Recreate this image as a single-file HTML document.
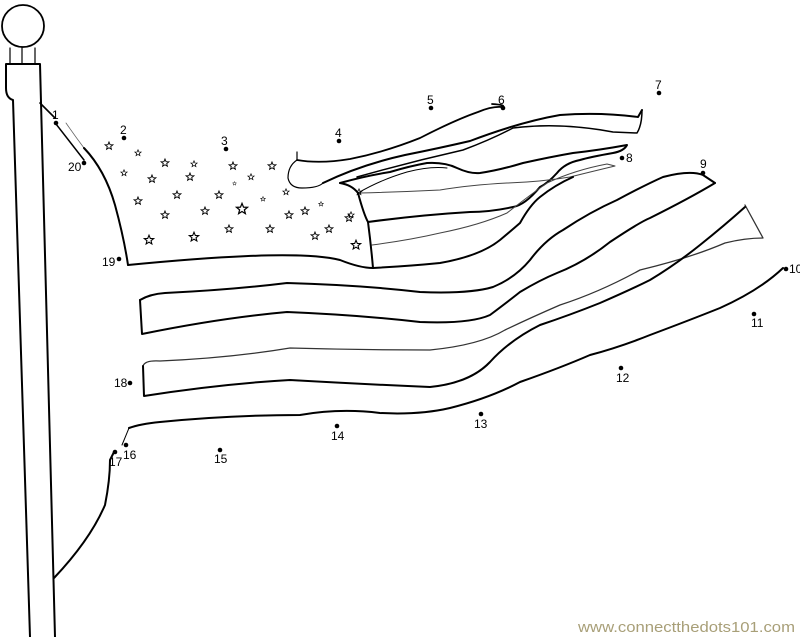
<!DOCTYPE html>
<html><head><meta charset="utf-8"><style>
html,body{margin:0;padding:0;background:#fff;}
svg{display:block;}
text{font-family:"Liberation Sans",sans-serif;}
</style></head><body>
<svg width="800" height="637" viewBox="0 0 800 637" xmlns="http://www.w3.org/2000/svg">
<defs>
<symbol id="st" viewBox="-5 -5 10 10" overflow="visible">
<polygon points="0,-4 1.1,-1.3 3.9,-1.2 1.7,0.6 2.4,3.3 0,1.8 -2.4,3.3 -1.7,0.6 -3.9,-1.2 -1.1,-1.3" fill="none" stroke="#000" stroke-width="0.9"/>
</symbol>
</defs>
<g fill="none" stroke="#000" stroke-linecap="round" stroke-linejoin="round">
<!-- pole -->
<circle cx="23" cy="26" r="21" stroke-width="1.8"/>
<path d="M10,48 V63 M22,47 V63 M35,48 V63" stroke-width="1.2"/>
<path d="M30,637 L13,100 Q6,98 6,88 L6,64 L40,64 L55,637" stroke-width="2"/>
<path d="M40,103 L55,118" stroke-width="1.6"/>
<!-- hoist -->
<path d="M56,124 Q70,142 84,160" stroke-width="1.5"/>
<path d="M66,123 Q75,136 84,148" stroke-width="0.8" stroke="#666"/>
<path d="M84,148 Q105,170 115,205 Q124,238 128,265" stroke-width="2"/>
<path d="M128,265 C200,258 300,250 340,260 Q360,268 373,268" stroke-width="2"/>
<path d="M54,578 Q90,540 105,505 Q110,480 110,460 L114,452" stroke-width="2"/>
<path d="M122,445 L129,428" stroke-width="1"/>
<!-- canton right edge -->
<path d="M340,183 Q352,185 358,193 Q364,215 368,222 Q371,245 373,268" stroke-width="2"/>
<!-- top fold -->
<path d="M297,152 L297,160 Q288,166 288,178 Q290,188 302,188 Q318,188 323,183" stroke-width="1.2"/>
<path d="M297,160 Q320,164 350,159 Q385,152 420,138 Q455,120 478,112 Q492,106 502,107 Q507,105 492,104" stroke-width="1.8"/>
<path d="M323,183 Q360,165 405,155 Q440,148 470,141 Q520,122 560,115 Q600,112 638,117 L642,110" stroke-width="2"/>
<path d="M357,177 Q410,162 463,150 Q490,140 513,128 Q560,122 613,132 L637,133 Q642,125 642,110" stroke-width="1.5"/>
<path d="M340,183 Q365,176 390,172 Q410,166 427,163 Q445,162 457,168 Q470,174 480,173 Q500,170 523,163 Q550,157 573,153 Q600,150 627,145 Q624,151 613,153 Q590,157 580,160 Q565,163 557,173 Q548,183 540,187 Q525,205 513,207 Q490,212 470,212 Q420,215 368,222" stroke-width="2"/>
<path d="M358,193 Q380,180 407,172 Q430,166 447,168" stroke-width="1"/>
<path d="M372,245 Q410,240 440,233 Q480,225 507,213 Q530,195 547,183 Q575,170 607,164 L615,166 Q590,172 570,177 Q540,182 507,183 Q470,185 440,190 Q400,192 360,193" stroke-width="1" stroke="#444"/>
<path d="M373,268 Q410,266 440,263 Q480,256 500,240 Q512,230 520,223 Q530,205 540,197 Q555,185 573,177" stroke-width="2"/>
<!-- stripe A (to 9) -->
<path d="M140,300 Q150,294 165,293 Q230,290 287,283 Q360,285 420,292 Q470,294 493,287 Q515,278 530,260 Q545,240 563,230 Q590,212 617,200 Q645,185 663,177 Q690,170 703,175 L715,183" stroke-width="2"/>
<path d="M140,300 L142,334 Q220,318 287,312 Q360,315 420,322 Q470,324 490,315 Q510,300 520,292 Q540,280 557,273 Q585,262 610,242 Q640,222 650,218 Q690,198 715,183" stroke-width="2"/>
<!-- stripe B -->
<path d="M143,366 Q145,360 160,361 Q230,358 290,348 Q360,350 430,350 Q480,345 505,330 Q530,318 560,305 Q600,292 640,270 Q690,258 725,243 Q745,238 763,238 L745,205" stroke-width="1.3" stroke="#333"/>
<path d="M143,366 L144,396 Q220,384 290,380 Q360,384 430,387 Q470,383 490,362 Q510,340 540,325 Q570,315 600,303 Q630,290 650,280 Q675,265 700,245 Q725,225 745,207" stroke-width="2"/>
<!-- bottom edge -->
<path d="M129,428 Q140,424 160,422 Q230,415 300,415 Q340,408 380,413 Q420,415 450,408 Q490,398 520,382 Q560,368 590,355 Q620,347 650,335 Q690,320 720,308 Q760,290 783,268" stroke-width="2"/>
</g>
<!-- stars -->
<g>
<use href="#st" x="104" y="141" width="10" height="10"/>
<use href="#st" x="134" y="149" width="8" height="8"/>
<use href="#st" x="160" y="158" width="10" height="10"/>
<use href="#st" x="190" y="160" width="8" height="8"/>
<use href="#st" x="228" y="161" width="10" height="10"/>
<use href="#st" x="267" y="161" width="10" height="10"/>
<use href="#st" x="120" y="169" width="8" height="8"/>
<use href="#st" x="147" y="174" width="10" height="10"/>
<use href="#st" x="185" y="172" width="10" height="10"/>
<use href="#st" x="247" y="173" width="8" height="8"/>
<use href="#st" x="232" y="181" width="5" height="5"/>
<use href="#st" x="282" y="188" width="8" height="8"/>
<use href="#st" x="172" y="190" width="10" height="10"/>
<use href="#st" x="214" y="190" width="10" height="10"/>
<use href="#st" x="260" y="196" width="6" height="6"/>
<use href="#st" x="133" y="196" width="10" height="10"/>
<use href="#st" x="235" y="202" width="14" height="14"/>
<use href="#st" x="200" y="206" width="10" height="10"/>
<use href="#st" x="160" y="210" width="10" height="10"/>
<use href="#st" x="284" y="210" width="10" height="10"/>
<use href="#st" x="300" y="206" width="10" height="10"/>
<use href="#st" x="318" y="201" width="6" height="6"/>
<use href="#st" x="344" y="213" width="10" height="10"/>
<use href="#st" x="324" y="224" width="10" height="10"/>
<use href="#st" x="224" y="224" width="10" height="10"/>
<use href="#st" x="265" y="224" width="10" height="10"/>
<use href="#st" x="310" y="231" width="10" height="10"/>
<use href="#st" x="188" y="231" width="12" height="12"/>
<use href="#st" x="143" y="234" width="12" height="12"/>
<use href="#st" x="350" y="239" width="12" height="12"/>
<use href="#st" x="355" y="188" width="8" height="8"/>
<use href="#st" x="347" y="211" width="8" height="8"/>
</g>
<!-- dots -->
<g fill="#000">
<circle cx="56" cy="123" r="2.3"/><circle cx="124" cy="138" r="2.3"/><circle cx="226" cy="149" r="2.3"/>
<circle cx="339" cy="141" r="2.3"/><circle cx="431" cy="108" r="2.3"/><circle cx="503" cy="108" r="2.3"/>
<circle cx="659" cy="93" r="2.3"/><circle cx="622" cy="158" r="2.3"/><circle cx="703" cy="173" r="2.3"/>
<circle cx="786" cy="269" r="2.3"/><circle cx="754" cy="314" r="2.3"/><circle cx="621" cy="368" r="2.3"/>
<circle cx="481" cy="414" r="2.3"/><circle cx="337" cy="426" r="2.3"/><circle cx="220" cy="450" r="2.3"/>
<circle cx="126" cy="445" r="2.3"/><circle cx="115" cy="452" r="2.3"/><circle cx="130" cy="383" r="2.3"/>
<circle cx="119" cy="259" r="2.3"/><circle cx="84" cy="163" r="2.3"/>
</g>
<g font-size="12" fill="#000">
<text x="52" y="119">1</text><text x="120" y="134">2</text><text x="221" y="145">3</text>
<text x="335" y="137">4</text><text x="427" y="104">5</text><text x="498" y="104">6</text>
<text x="655" y="89">7</text><text x="626" y="162">8</text><text x="700" y="168">9</text>
<text x="789" y="273">10</text><text x="751" y="327">11</text><text x="616" y="382">12</text>
<text x="474" y="428">13</text><text x="331" y="440">14</text><text x="214" y="463">15</text>
<text x="123" y="459">16</text><text x="109" y="466">17</text><text x="114" y="387">18</text>
<text x="102" y="266">19</text><text x="68" y="171">20</text>
</g>
<text x="578" y="632" font-size="15" fill="#a89f78" textLength="217" lengthAdjust="spacingAndGlyphs">www.connectthedots101.com</text>
</svg>
</body></html>
